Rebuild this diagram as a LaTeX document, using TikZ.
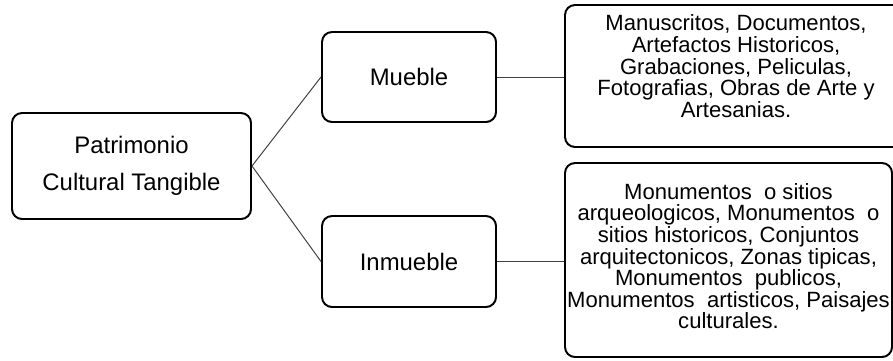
\documentclass[tikz,border=0pt]{standalone}
\usepackage{fontspec}
\setmainfont{Liberation Sans}
\begin{document}
\begin{tikzpicture}[
    box/.style={rectangle, draw, line width=1.4pt, rounded corners=0.25cm, align=center, inner sep=0pt, font=\fontsize{17}{26.3}\selectfont},
    listbox/.style={box, font=\fontsize{15.7}{15.4}\selectfont},
    link/.style={draw=black!75, line width=0.7pt}
]
\useasboundingbox (0,0) rectangle (22.325,-9);
% Classification
\node[box, minimum width=5.975cm, minimum height=2.65cm] (root) at (3.2875,-4.15) {Patrimonio\\Cultural Tangible};
\node[box, minimum width=4.35cm, minimum height=2.25cm] (mueble) at (10.225,-1.925) {Mueble};
\node[box, minimum width=4.35cm, minimum height=2.275cm] (inmueble) at (10.225,-6.5375) {Inmueble};
\node[listbox, minimum width=8.55cm, minimum height=3.55cm, text depth=0.5cm] (mob) at (18.4,-1.9) {Manuscritos, Documentos,\\Artefactos Historicos,\\Grabaciones, Peliculas,\\Fotografias, Obras de Arte y\\Artesanias.};
\node[listbox, minimum width=8.175cm, minimum height=4.85cm, text depth=0.2cm] (inm) at (18.2125,-6.5) {Monumentos~ o sitios\\arqueologicos, Monumentos~ o\\sitios historicos, Conjuntos\\arquitectonicos, Zonas tipicas,\\Monumentos~ publicos,\\Monumentos~ artisticos, Paisajes\\culturales.};

\draw[link] (root.east) -- (mueble.west);
\draw[link] (root.east) -- (inmueble.west);
\draw[link] (mueble.east) -- (mueble.east -| mob.west);
\draw[link] (inmueble.east) -- (inmueble.east -| inm.west);
\end{tikzpicture}
\end{document}
